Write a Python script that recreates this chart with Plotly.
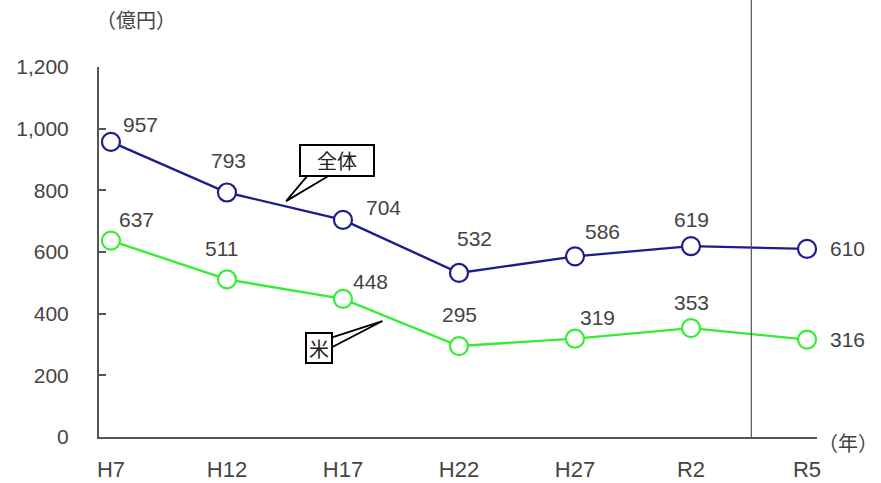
import plotly.graph_objects as go

# Output value by survey year (unit: 100 million yen)
years = ["H7", "H12", "H17", "H22", "H27", "R2", "R5"]
total = [957, 793, 704, 532, 586, 619, 610]
rice = [637, 511, 448, 295, 319, 353, 316]
y_ticks = [0, 200, 400, 600, 800, 1000, 1200]

BLUE = "#1c1c8c"
GREEN = "#33ee33"
FONT = "Liberation Sans, Arial, sans-serif"
JFONT = "Noto Sans CJK JP, sans-serif"
TXT = "#444444"

xi = list(range(len(years)))

fig = go.Figure()
for vals, col, name in [(total, BLUE, "全体"), (rice, GREEN, "米")]:
    fig.add_trace(go.Scatter(
        x=xi, y=vals, name=name, mode="lines+markers",
        line=dict(color=col, width=2.4),
        marker=dict(size=18, color="white", line=dict(color=col, width=2.2)),
        showlegend=False, cliponaxis=False,
    ))

# value labels (pixel offsets from each point)
total_off = [(30, 17), (2, 32), (41, 12), (16, 34), (27, 25), (0, 27), (40, 0)]
rice_off = [(26, 21), (-5, 31), (28, 17), (1, 32), (22, 21), (0, 26), (40, 0)]
for vals, offs in [(total, total_off), (rice, rice_off)]:
    for i, (v, (dx, dy)) in enumerate(zip(vals, offs)):
        fig.add_annotation(x=i, y=v, text=str(v), showarrow=False,
                           xshift=dx, yshift=dy,
                           font=dict(size=21, color=TXT, family=FONT))

# callout wedges
fig.add_shape(type="path", xref="x", yref="y",
              path="M 1.70 850 L 1.51 765 L 1.89 850 Z",
              fillcolor="white", line=dict(color="black", width=1.8))
fig.add_shape(type="path", xref="x", yref="y",
              path="M 1.90 322 L 2.34 376 L 1.90 290 Z",
              fillcolor="white", line=dict(color="black", width=1.8))
# callout boxes
fig.add_annotation(x=1.95, y=898, text="全体", showarrow=False,
                   bordercolor="black", borderwidth=2, bgcolor="white",
                   width=70, height=27,
                   font=dict(size=20, color="#222", family=JFONT))
fig.add_annotation(x=1.79, y=288, text="米", showarrow=False,
                   bordercolor="black", borderwidth=2, bgcolor="white",
                   width=22, height=26,
                   font=dict(size=20, color="#222", family=JFONT))

# vertical divider between R2 and R5
fig.add_shape(type="line", xref="x", yref="paper",
              x0=5.52, x1=5.52, y0=0, y1=1 + 67 / 370,
              line=dict(color="#555555", width=1.2))

# unit labels
fig.add_annotation(xref="paper", yref="paper", x=(94 - 99) / 718,
                   y=(437 - 20) / 370,
                   text="（億円）", showarrow=False, xanchor="left",
                   yanchor="middle",
                   font=dict(size=20, color=TXT, family=JFONT))
fig.add_annotation(xref="paper", yref="paper", x=(880 - 99) / 718,
                   y=(437 - 442) / 370,
                   text="（年）", showarrow=False, xanchor="right",
                   yanchor="middle",
                   font=dict(size=20, color=TXT, family=JFONT))

fig.update_xaxes(range=[-0.103, 6.086], tickmode="array", tickvals=xi,
                 ticktext=years, showgrid=False, zeroline=False,
                 showline=True, linecolor="#555555", linewidth=2,
                 ticks="", ticklabelstandoff=12, automargin=False,
                 tickfont=dict(size=22, color=TXT, family=FONT))
fig.update_yaxes(range=[0, 1200], tickmode="array", tickvals=y_ticks,
                 ticktext=[f"{v:,}" for v in y_ticks], showgrid=False,
                 zeroline=False, showline=True, linecolor="#555555",
                 linewidth=2, ticks="inside", ticklen=7, tickwidth=2,
                 tickcolor="#555555", ticklabelstandoff=24, automargin=False,
                 tickfont=dict(size=21, color=TXT, family=FONT))

fig.update_layout(width=881, height=483,
                  margin=dict(l=99, r=64, t=67, b=46),
                  plot_bgcolor="white", paper_bgcolor="white")

fig.write_html("out.html")
